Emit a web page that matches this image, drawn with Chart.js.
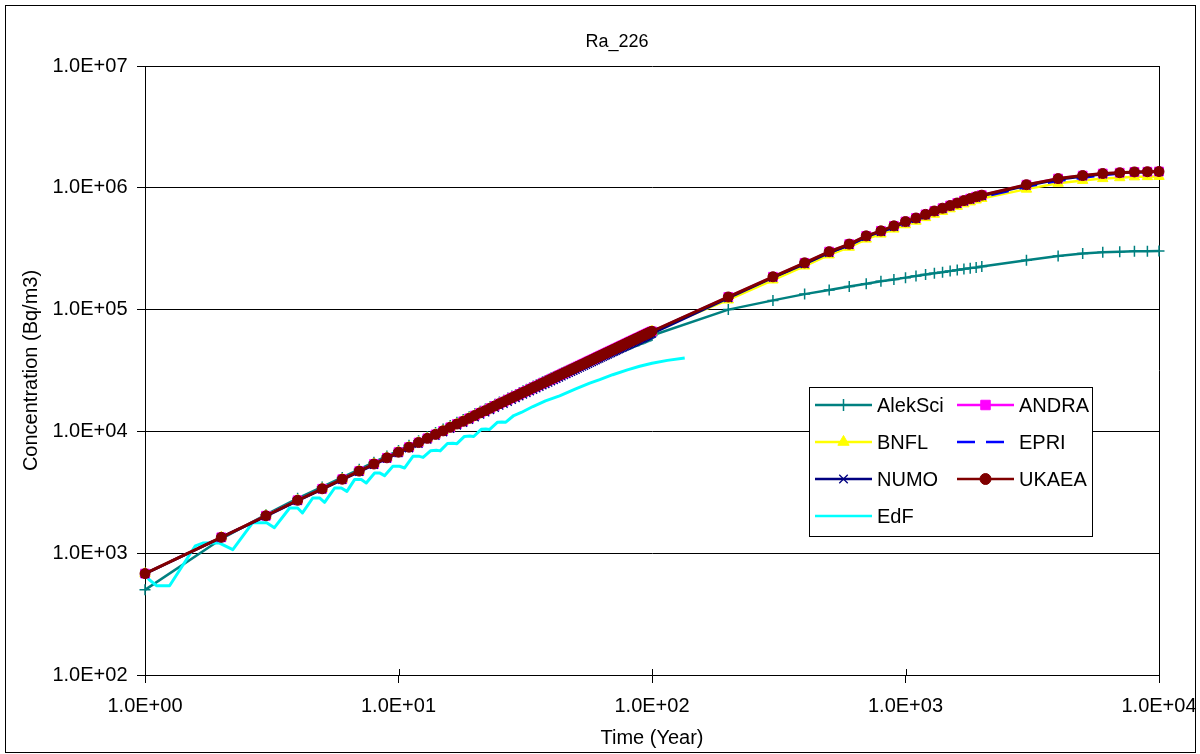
<!DOCTYPE html>
<html>
<head>
<meta charset="utf-8">
<title>Ra_226</title>
<script src="https://cdn.jsdelivr.net/npm/chart.js@4.4.1/dist/chart.umd.min.js"></script>
<style>
  html, body { margin: 0; padding: 0; background: #ffffff; }
  canvas { display: block; }
</style>
</head>
<body>
<canvas id="chart" width="1200" height="754"></canvas>
<script>
// ---- Output times (years) ----
const yearsEarly = [1,2,3,4,5,6,7,8,9,10,11,12,13,14,15,16,17,18,19,20,
  21,22,23,24,25,26,27,28,29,30,31,32,33,34,35,36,37,38,39,40,
  41,42,43,44,45,46,47,48,49,50,51,52,53,54,55,56,57,58,59,60,
  61,62,63,64,65,66,67,68,69,70,71,72,73,74,75,76,77,78,79,80,
  81,82,83,84,85,86,87,88,89,90,91,92,93,94,95,96,97,98,99,100];
const yearsLate = [200,300,400,500,600,700,800,900,1000,1100,1200,1300,1400,1500,
  1600,1700,1800,1900,2000,3000,4000,5000,6000,7000,8000,9000,10000];

// ---- Ra-226 concentration (Bq/m3) ----
const ukaeaEarly = [680,1350,2030,2720,3380,4050,4720,5400,6070,6750,7420,8100,8770,9450,10100,10800,11500,12100,12800,13500,
  14200,14800,15500,16200,16900,17500,18200,18900,19500,20200,20900,21500,22200,22900,23500,24200,24900,25500,26200,26900,
  27500,28200,28900,29500,30200,30800,31500,32200,32800,33500,34200,34800,35500,36100,36800,37500,38100,38800,39400,40100,
  40800,41400,42100,42700,43400,44000,44700,45400,46000,46700,47300,48000,48600,49300,50000,50600,51300,51900,52600,53300,
  53900,54600,55200,55900,56500,57200,57800,58500,59100,59800,60400,61100,61700,62400,63000,63700,64300,65000,65600,66300];
const ukaeaLate = [127000,186000,242000,299000,345000,403000,443000,487000,528000,565000,605000,645000,680000,715000,
  750000,785000,815000,845000,870000,1060000,1190000,1260000,1310000,1330000,1350000,1355000,1360000];

const numoEarly = [675,1340,2010,2690,3340,4000,4660,5320,5970,6620,7260,7910,8550,9190,9830,10500,11150,11750,12400,13050,
  13700,14300,14950,15600,16250,16850,17500,18150,18750,19400,20050,20650,21300,21950,22550,23200,23850,24450,25100,25750,
  26350,27000,27650,28250,28900,29500,30150,30800,31400,32050,32700,33300,33950,34550,35200,35850,36450,37100,37700,38350,
  39000,39600,40250,40850,41500,42100,42750,43400,44000,44650,45250,45900,46500,47150,47800,48400,49050,49650,50300,50900,
  51550,52150,52800,53400,54050,54650,55300,55900,56550,57150,57800,58400,59050,59650,60300,60900,61550,62150,62800,63400];
const numoLate = [124000,183000,236000,292000,339000,395000,435000,478000,518000,555000,594000,633000,667000,702000,
  736000,770000,800000,829000,854000,1040000,1170000,1240000,1290000,1320000,1340000,1350000,1355000];

const bnflLate = [120000,175000,228000,281000,325000,379000,417000,458000,497000,532000,569000,606000,640000,672000,
  705000,738000,766000,794000,818000,975000,1090000,1150000,1190000,1210000,1230000,1235000,1240000];

const epriLate = [126000,184000,238000,293000,338000,393000,432000,474000,512000,545000,583000,620000,653000,686000,
  720000,754000,783000,812000,836000,1020000,1140000,1210000,1270000,1310000,1340000,1350000,1355000];

const alekSciEarly = [500,1310,2070,2820,3500,4190,4880,5590,6280,6980,7680,8380,9070,9780,10450,11200,11900,12500,13200,13950,
  14650,15300,16000,16700,17450,18050,18800,19500,20100,20850,21550,22150,22850,23550,24150,24850,25550,26150,26850,27550,
  28100,28800,29500,30100,30800,31350,32000,32700,33300,34000,34600,35200,35900,36400,37100,37700,38300,38900,39500,40100,
  40700,41200,41800,42300,42900,43400,44000,44500,45100,45600,46100,46700,47200,47800,48300,48800,49400,49900,50400,51000,
  51500,52000,52500,53100,53600,54100,54600,55100,55600,56200,56700,57200,57700,58200,58800,59300,59800,60300,60800,61300];
const alekSciLate = [100000,119000,134000,145000,155000,163000,171000,177000,183000,189000,194000,199000,203000,207000,
  211000,215000,219000,222000,226000,254000,276000,289000,296000,299000,301000,302000,303000];

// EdF reports on its own time grid
const edfYears = [1.0,1.04,1.11,1.25,1.58,1.69,1.95,2.22,2.66,3.02,3.24,3.72,4.0,4.18,4.59,4.88,5.11,5.6,5.95,6.26,
  6.71,7.13,7.46,8.05,8.42,8.81,9.5,10.1,10.57,11.4,12.1,12.5,13.4,14.1,14.6,15.6,16.4,17.0,18.2,19.1,
  19.8,21.2,22.1,22.9,24.6,25.6,26.5,28.5,30.5,33.9,38.0,43.2,50.0,56.8,62.2,70.0,80.0,89.4,100,115,134.6];
const edfConc = [670,605,541,541,1150,1210,1220,1070,1780,1780,1620,2350,2350,2140,2840,2840,2615,3430,3430,3220,
  4020,4020,3775,4560,4560,4330,5170,5170,5010,6240,6240,6120,6950,7000,6920,7950,8000,7930,9100,9150,
  9080,10400,10450,10380,11900,11950,11900,13500,14300,16000,17800,19600,22300,24900,26600,29200,32000,34300,36300,38300,40000];

// ---- Axis ticks ----
const xTickValues = [1, 10, 100, 1000, 10000];
const xTickLabels = ['1.0E+00', '1.0E+01', '1.0E+02', '1.0E+03', '1.0E+04'];
const yTickValues = [1e2, 1e3, 1e4, 1e5, 1e6, 1e7];
const yTickLabels = ['1.0E+02', '1.0E+03', '1.0E+04', '1.0E+05', '1.0E+06', '1.0E+07'];

const FONT_FAMILY = '"Liberation Sans", Arial, Helvetica, sans-serif';

function toPoints(times, values) {
  return times.map((t, i) => ({ x: t, y: values[i] }));
}
const allYears = yearsEarly.concat(yearsLate);

const datasets = [
  { label: 'AlekSci', data: toPoints(allYears, alekSciEarly.concat(alekSciLate)),
    borderColor: '#008080', backgroundColor: '#008080', borderWidth: 2.5,
    pointStyle: 'cross', pointRadius: 5.5, pointBorderWidth: 1.5, order: 6 },
  { label: 'ANDRA', data: toPoints(allYears, ukaeaEarly.concat(ukaeaLate)),
    borderColor: '#ff00ff', backgroundColor: '#ff00ff', borderWidth: 2.5,
    pointStyle: 'rect', pointRadius: 6.2, pointBorderWidth: 1, order: 3 },
  { label: 'BNFL', data: toPoints(allYears, ukaeaEarly.concat(bnflLate)),
    borderColor: '#ffff00', backgroundColor: '#ffff00', borderWidth: 2.5,
    pointStyle: 'triangle', pointRadius: 6, pointBorderWidth: 1, order: 4 },
  { label: 'EPRI', data: toPoints(allYears, ukaeaEarly.concat(epriLate)),
    borderColor: '#0000ff', backgroundColor: '#0000ff', borderWidth: 2.5, borderDash: [18, 11],
    pointRadius: 0, order: 2 },
  { label: 'NUMO', data: toPoints(allYears, numoEarly.concat(numoLate)),
    borderColor: '#000080', backgroundColor: '#000080', borderWidth: 2.5,
    pointStyle: 'crossRot', pointRadius: 5.5, pointBorderWidth: 1.3, order: 1 },
  { label: 'UKAEA', data: toPoints(allYears, ukaeaEarly.concat(ukaeaLate)),
    borderColor: '#800000', backgroundColor: '#800000', borderWidth: 3,
    pointStyle: 'circle', pointRadius: 5, pointBorderWidth: 1, order: 0 },
  { label: 'EdF', data: toPoints(edfYears, edfConc),
    borderColor: '#00ffff', backgroundColor: '#00ffff', borderWidth: 3,
    pointRadius: 0, order: 5 }
];
datasets.forEach(d => { d.fill = false; d.tension = 0; d.clip = false; d.borderJoinStyle = 'round'; });

// Draw a point glyph, using the library helper when available
function glyph(ctx, style, radius, borderWidth, x, y) {
  const h = Chart.helpers;
  if (h && h.drawPoint) {
    h.drawPoint(ctx, { pointStyle: style, radius: radius, borderWidth: borderWidth, rotation: 0 }, x, y);
  }
}

// White page, outer frame, title, plot-area frame and inner x tick marks
const framePlugin = {
  id: 'frame',
  beforeDraw(chart) {
    const ctx = chart.ctx;
    ctx.save();
    ctx.fillStyle = '#ffffff';
    ctx.fillRect(0, 0, chart.width, chart.height);
    ctx.strokeStyle = '#000000';
    ctx.lineWidth = 1;
    ctx.strokeRect(5.5, 5.5, 1190, 747);
    ctx.fillStyle = '#000000';
    ctx.font = '18px ' + FONT_FAMILY;
    ctx.textAlign = 'center';
    ctx.textBaseline = 'middle';
    ctx.fillText('Ra_226', 617, 42);
    ctx.restore();
  },
  beforeDatasetsDraw(chart) {
    const ctx = chart.ctx;
    const a = chart.chartArea;
    const xs = chart.scales.x;
    ctx.save();
    ctx.strokeStyle = '#000000';
    ctx.lineWidth = 1;
    ctx.beginPath();
    ctx.moveTo(Math.round(a.right) + 0.5, a.top);
    ctx.lineTo(Math.round(a.right) + 0.5, a.bottom);
    xTickValues.forEach(v => {
      const px = Math.round(xs.getPixelForValue(v)) + 0.5;
      ctx.moveTo(px, a.bottom);
      ctx.lineTo(px, a.bottom - 6);
    });
    ctx.stroke();
    ctx.restore();
  }
};

// Boxed two-column legend inside the plot
const legendPlugin = {
  id: 'boxLegend',
  afterDraw(chart) {
    const ctx = chart.ctx;
    const box = { x: 809.5, y: 387.5, w: 283, h: 149 };
    const rowY = [405, 442, 479, 516];
    const colLine = [[815, 872], [957, 1014]];
    const colText = [877, 1019];
    ctx.save();
    ctx.fillStyle = '#ffffff';
    ctx.fillRect(box.x, box.y, box.w, box.h);
    ctx.strokeStyle = '#000000';
    ctx.lineWidth = 1;
    ctx.strokeRect(box.x, box.y, box.w, box.h);
    chart.data.datasets.forEach((ds, i) => {
      const row = Math.floor(i / 2), col = i % 2;
      const y = rowY[row];
      const [x0, x1] = colLine[col];
      ctx.strokeStyle = ds.borderColor;
      ctx.lineWidth = 2.5;
      ctx.setLineDash(ds.borderDash || []);
      ctx.beginPath();
      ctx.moveTo(x0, y);
      ctx.lineTo(x1, y);
      ctx.stroke();
      ctx.setLineDash([]);
      if (ds.pointRadius > 0) {
        ctx.fillStyle = ds.backgroundColor;
        ctx.strokeStyle = ds.borderColor;
        ctx.lineWidth = ds.pointBorderWidth;
        glyph(ctx, ds.pointStyle, ds.pointRadius + 0.5, ds.pointBorderWidth, (x0 + x1) / 2, y);
      }
      ctx.fillStyle = '#000000';
      ctx.font = '20px ' + FONT_FAMILY;
      ctx.textAlign = 'left';
      ctx.textBaseline = 'middle';
      ctx.fillText(ds.label, colText[col], y + 1);
    });
    ctx.restore();
  }
};

const tickFont = { family: FONT_FAMILY, size: 20 };

new Chart(document.getElementById('chart').getContext('2d'), {
  type: 'line',
  data: { datasets: datasets },
  options: {
    responsive: false,
    devicePixelRatio: 1,
    animation: false,
    events: [],
    layout: { padding: { left: 0, top: 66, right: 41, bottom: 0 } },
    plugins: { legend: { display: false }, title: { display: false }, tooltip: { enabled: false } },
    scales: {
      x: {
        type: 'logarithmic',
        position: 'bottom',
        min: 1,
        max: 10000,
        afterBuildTicks: (s) => { s.ticks = xTickValues.map(v => ({ value: v })); },
        afterFit: (s) => { s.height = 79; s.paddingLeft = 0; s.paddingRight = 0; },
        ticks: {
          autoSkip: false, maxRotation: 0, minRotation: 0,
          color: '#000000', font: tickFont, padding: 11,
          callback: (v, i) => xTickLabels[i]
        },
        grid: { drawOnChartArea: false, drawTicks: true, tickLength: 8, color: '#000000', lineWidth: 1 },
        border: { display: true, color: '#000000', width: 1 },
        title: { display: true, text: 'Time (Year)', color: '#000000', font: tickFont, padding: { top: 0, bottom: 4 } }
      },
      y: {
        type: 'logarithmic',
        position: 'left',
        min: 1e2,
        max: 1e7,
        afterBuildTicks: (s) => { s.ticks = yTickValues.map(v => ({ value: v })); },
        afterFit: (s) => { s.width = 145; s.paddingTop = 0; s.paddingBottom = 0; },
        ticks: {
          autoSkip: false,
          color: '#000000', font: tickFont, padding: 9.5,
          callback: (v, i) => yTickLabels[i]
        },
        grid: { drawOnChartArea: true, drawTicks: true, tickLength: 8, color: '#000000', lineWidth: 1 },
        border: { display: true, color: '#000000', width: 1 },
        title: { display: true, text: 'Concentration (Bq/m3)', color: '#000000', font: tickFont, padding: { top: 19, bottom: 0 } }
      }
    }
  },
  plugins: [framePlugin, legendPlugin]
});
</script>
</body>
</html>
